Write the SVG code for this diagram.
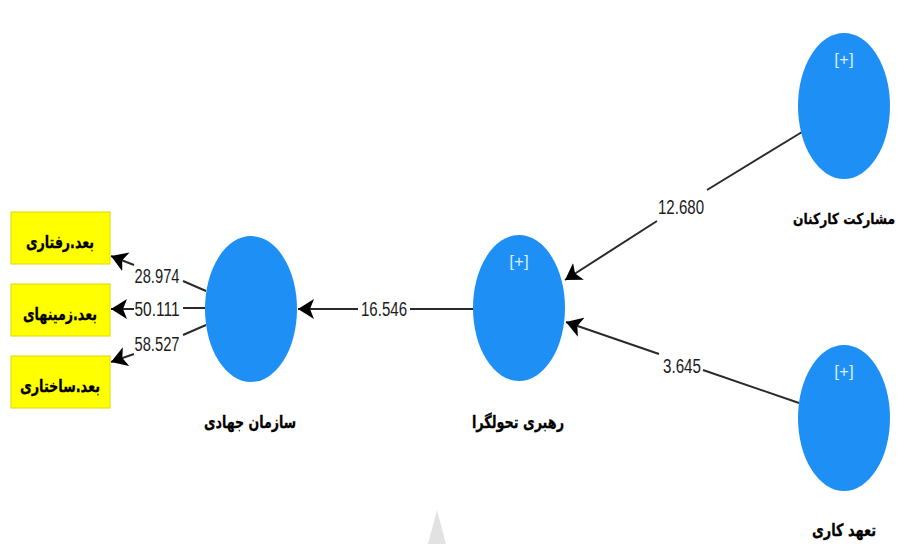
<svg xmlns="http://www.w3.org/2000/svg" width="908" height="544" viewBox="0 0 908 544">
<style>
.n{fill:#1e90f5}
.b{fill:#ffff00;stroke:#e6d600;stroke-width:1}
.l{font-family:"DejaVu Sans",sans-serif;font-weight:bold;font-size:17px;fill:#000;stroke:#000;stroke-width:.3px;text-anchor:middle;direction:rtl}
.s{font-size:15px}
.v{font-family:"Liberation Sans",sans-serif;font-size:20px;fill:#1c1c1c;text-anchor:middle}
.p{font-family:"Liberation Sans",sans-serif;font-size:17px;fill:#d5ecff;text-anchor:middle}
.c{stroke:#2a2a2a;stroke-width:2;fill:none}
.c2{stroke:#2a2a2a;stroke-width:2;fill:none;marker-end:url(#a)}
</style>
<defs>
<marker id="a" markerUnits="userSpaceOnUse" markerWidth="18" markerHeight="22" refX="16" refY="11" orient="auto">
<path d="M16 11L0 1L4 11L0 21Z" fill="#000"/>
</marker>
</defs>
<rect width="908" height="544" fill="#fff"/>
<polygon points="437,510 446,544 428,544" fill="#e2e2e2"/>
<g id="connectors">
<line class="c2" x1="134" y1="265" x2="111" y2="256"/>
<line class="c" x1="183" y1="281" x2="206" y2="291"/>
<line class="c2" x1="134" y1="309" x2="111" y2="309"/>
<line class="c" x1="183" y1="308" x2="205" y2="308"/>
<line class="c2" x1="134" y1="354" x2="111" y2="362"/>
<line class="c" x1="183" y1="335" x2="206" y2="325"/>
<line class="c2" x1="358" y1="309" x2="298" y2="309"/>
<line class="c" x1="410" y1="309" x2="473" y2="309"/>
<line class="c2" x1="657" y1="221" x2="565" y2="280"/>
<line class="c" x1="707" y1="190" x2="802" y2="132"/>
<line class="c2" x1="659" y1="354" x2="566" y2="322"/>
<line class="c" x1="703" y1="370" x2="799" y2="403"/>
<text class="v" x="157" y="283" textLength="45" lengthAdjust="spacingAndGlyphs">28.974</text>
<text class="v" x="157" y="316" textLength="45" lengthAdjust="spacingAndGlyphs">50.111</text>
<text class="v" x="157" y="351" textLength="45" lengthAdjust="spacingAndGlyphs">58.527</text>
<text class="v" x="384" y="316" textLength="46" lengthAdjust="spacingAndGlyphs">16.546</text>
<text class="v" x="681" y="214" textLength="46" lengthAdjust="spacingAndGlyphs">12.680</text>
<text class="v" x="682" y="373" textLength="38" lengthAdjust="spacingAndGlyphs">3.645</text>
</g>
<g id="beh"><rect class="b" x="11" y="212" width="99" height="52"/><text class="l" x="60" y="248" textLength="68" lengthAdjust="spacingAndGlyphs">بعد.رفتاری</text></g>
<g id="ctx"><rect class="b" x="11" y="284" width="99" height="52"/><text class="l" x="60" y="320" textLength="74" lengthAdjust="spacingAndGlyphs">بعد.زمینهای</text></g>
<g id="str"><rect class="b" x="11" y="356" width="99" height="52"/><text class="l" x="60" y="392" textLength="80" lengthAdjust="spacingAndGlyphs">بعد.ساختاری</text></g>
<g id="org"><ellipse class="n" cx="251" cy="309" rx="46" ry="73"/><text class="l" x="250" y="428" textLength="92" lengthAdjust="spacingAndGlyphs">سازمان جهادی</text></g>
<g id="lead"><ellipse class="n" cx="519" cy="308" rx="46" ry="73"/><text class="p" x="519" y="267">[+]</text><text class="l" x="518" y="428" textLength="92" lengthAdjust="spacingAndGlyphs">رهبری تحولگرا</text></g>
<g id="part"><ellipse class="n" cx="844" cy="106" rx="46" ry="73"/><text class="p" x="844" y="65">[+]</text><text class="l s" x="844" y="224" textLength="102" lengthAdjust="spacingAndGlyphs">مشارکت کارکنان</text></g>
<g id="comm"><ellipse class="n" cx="844" cy="418" rx="46" ry="73"/><text class="p" x="844" y="377">[+]</text><text class="l" x="844" y="536" textLength="64" lengthAdjust="spacingAndGlyphs">تعهد کاری</text></g>
</svg>
